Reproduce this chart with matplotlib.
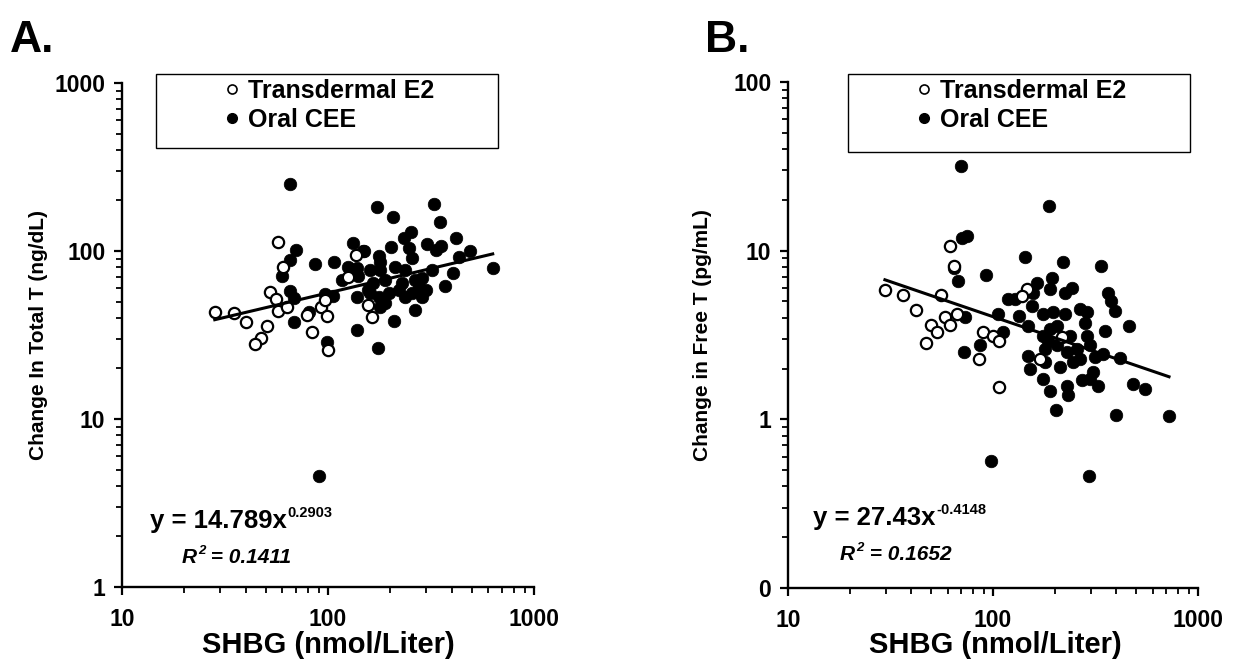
import numpy as np
import matplotlib
matplotlib.use("Agg")
import matplotlib.pyplot as plt
from matplotlib.patches import Rectangle
from matplotlib.lines import Line2D
from matplotlib.ticker import FixedLocator, FixedFormatter, LogLocator, NullFormatter

plt.rcParams['font.family'] = ['Liberation Sans', 'DejaVu Sans']
plt.rcParams['font.weight'] = 'bold'

# ---------------- data ----------------
# Panel A: change in total T (ng/dL) vs SHBG (nmol/L)
a_e2_shbg = [28.2, 35.0, 39.9, 50.6, 47.3, 44.4, 57.5, 60.4, 52.4, 56.0, 57.5,
             63.4, 83.8, 79.4, 92.9, 99.1, 97.2, 99.5, 136, 125.6, 157, 163]
a_e2_tt = [43.5, 42.6, 37.6, 35.9, 30.2, 27.8, 113.7, 80.7, 57.3, 51.6, 44.2,
           46.2, 32.8, 41.6, 46.6, 41.2, 51.1, 25.7, 94.7, 70.4, 47.7, 40.6]
a_cee_shbg = [65.1, 70.1, 65.1, 59.7, 65.1, 68.3, 68.3, 86.9, 107.2, 80.6,
              97.2, 105.2, 99.1, 132.7, 148.6, 125.5, 137.8, 140.4, 116.4, 137.8,
              138.9, 157.1, 172, 206.7, 326.8, 349.6, 254.2, 233.1, 150.3, 176,
              202.9, 303.2, 352.3, 420.2, 433, 488.3, 630.3, 404.8, 369.8, 265.9,
              209.1, 174, 320.8, 286.6, 255.9, 178.6, 159.6, 188.9, 165.7, 220.3,
              255.9, 286.6, 237.5, 276.1, 178.6, 189.6, 212.3, 237.5, 90.6, 246.6,
              228.8, 297.5, 176, 196.9, 159.6, 265.9, 333, 179.3]
a_cee_tt = [250.6, 101.4, 88.4, 71.0, 58.0, 52.3, 37.6, 83.3, 86.0, 43.5,
            55.5, 54.0, 28.9, 112.1, 100, 79.9, 78.9, 71.0, 67.2, 53.5,
            33.9, 58.6, 183.6, 160, 189.6, 148.2, 129.2, 119, 100.5, 93.4,
            105.1, 110.1, 107.1, 119, 91.7, 100, 78.9, 74.3, 61.9, 44.5,
            38.5, 26.3, 77.1, 68.8, 90.4, 77.1, 77.1, 67.2, 64.2, 58.6,
            56.0, 53.5, 53.5, 61.3, 46.6, 48.8, 80.7, 77.1, 4.58, 103.7,
            64.2, 58.6, 53.5, 56.0, 56.0, 67.2, 101.4, 86.4]
a_fit = (14.789, 0.2903)
a_r2 = "0.1411"

# Panel B: change in free T (pg/mL) vs SHBG (nmol/L)
b_e2_shbg = [29.7, 36.5, 42.1, 55.5, 61.7, 49.8, 53.5, 58.5, 61.7, 67.0, 47.1,
             89.7, 99.6, 85.1, 107.4, 64.8, 147.1, 107.4, 169.6, 216.3, 138.0]
b_e2_ft = [5.82, 5.44, 4.42, 5.44, 10.65, 3.62, 3.31, 4.02, 3.64, 4.24, 2.84,
           3.28, 3.13, 2.29, 1.55, 8.09, 5.90, 2.93, 2.29, 3.06, 5.39]
b_cee_shbg = [69.8, 187.6, 70.3, 74.9, 64.5, 67.7, 92.4, 143.3, 218.7, 336.4,
              73.0, 72.5, 86.4, 106.2, 118.8, 128, 134.5, 148.8, 163.3, 157.3,
              154.4, 194.7, 189.7, 241.9, 224.5, 365.2, 375, 393.6, 176.1, 197,
              224.5, 265.7, 286.4, 281.1, 286.4, 351.8, 462.4, 176.1, 186.2, 204.4,
              228.8, 255.9, 297.3, 345.3, 314.5, 416.4, 148.8, 151.5, 179.4, 212.3,
              246.5, 265.7, 176.1, 189.7, 228.8, 233.1, 270.7, 308.6, 326.5, 297.3,
              483.7, 551.4, 202.2, 396.6, 722.1, 97.8, 294, 179.4, 189.7, 237.5,
              204.4, 112.3]
b_cee_ft = [31.6, 18.5, 11.87, 12.25, 7.91, 6.60, 7.13, 9.14, 8.58, 8.12,
            4.02, 2.50, 2.74, 4.20, 5.15, 5.20, 4.11, 3.59, 6.45, 5.64,
            4.71, 6.91, 5.95, 6.03, 5.64, 5.64, 5.04, 4.40, 4.20, 4.30,
            4.20, 4.50, 4.30, 3.75, 3.13, 3.35, 3.59, 3.13, 2.93, 2.74,
            2.50, 2.62, 2.74, 2.44, 2.34, 2.31, 2.39, 1.98, 2.18, 2.04,
            2.18, 2.28, 1.74, 1.47, 1.58, 1.39, 1.70, 1.91, 1.58, 1.74,
            1.63, 1.52, 1.135, 1.06, 1.04, 0.564, 0.46, 2.62, 3.43, 3.13,
            3.59, 3.31]
b_fit = (27.43, -0.4148)
b_r2 = "0.1652"

series_labels = ["Transdermal E2", "Oral CEE"]
x_ticks = [10, 100, 1000]
x_ticklabels = ["10", "100", "1000"]
a_yticks = [1, 10, 100, 1000]
a_yticklabels = ["1", "10", "100", "1000"]
b_yticks = [0.1, 1, 10, 100]
b_yticklabels = ["0", "1", "10", "100"]

# ---------------- figure ----------------
W, H = 1237, 663
fig = plt.figure(figsize=(W / 100, H / 100), dpi=100)


def fx(px):
    return px / W


def fy(py):
    return 1 - py / H


def make_ax(l, r, t, b):
    return fig.add_axes([fx(l), fy(b), fx(r) - fx(l), fy(t) - fy(b)])


axA = make_ax(122, 534, 83, 587)
axB = make_ax(788, 1198, 82, 588)

TICK_FS = 16.5


def style(ax, yticks, yticklabels, ylim):
    ax.set_xscale('log')
    ax.set_yscale('log')
    ax.set_xlim(10, 1000)
    ax.set_ylim(*ylim)
    for s in ['top', 'right']:
        ax.spines[s].set_visible(False)
    for s in ['left', 'bottom']:
        ax.spines[s].set_linewidth(1.7)
    ax.xaxis.set_major_locator(FixedLocator(x_ticks))
    ax.xaxis.set_major_formatter(FixedFormatter(x_ticklabels))
    ax.xaxis.set_minor_locator(LogLocator(base=10, subs=np.arange(2, 10)))
    ax.xaxis.set_minor_formatter(NullFormatter())
    ax.yaxis.set_major_locator(FixedLocator(yticks))
    ax.yaxis.set_major_formatter(FixedFormatter(yticklabels))
    ax.yaxis.set_minor_locator(LogLocator(base=10, subs=np.arange(2, 10)))
    ax.yaxis.set_minor_formatter(NullFormatter())
    ax.tick_params(which='major', direction='out', length=6, width=1.6,
                   labelsize=TICK_FS)
    ax.tick_params(which='minor', direction='out', length=4, width=1.3)
    ax.tick_params(axis='x', which='major', pad=9)
    ax.tick_params(axis='y', which='major', pad=6)
    for lab in ax.get_xticklabels() + ax.get_yticklabels():
        lab.set_fontweight('bold')


def scatter_panel(ax, e2x, e2y, ceex, ceey, fit):
    ax.scatter(ceex, ceey, s=82, c='black', edgecolors='black', linewidths=0.5,
               zorder=3)
    ax.scatter(e2x, e2y, s=66, facecolors='white', edgecolors='black',
               linewidths=1.6, zorder=4)
    allx = np.array(list(e2x) + list(ceex), dtype=float)
    xs = np.logspace(np.log10(allx.min()), np.log10(allx.max()), 100)
    a, b = fit
    ax.plot(xs, a * xs ** b, color='black', lw=2.2, zorder=5)


style(axA, a_yticks, a_yticklabels, (1, 1000))
style(axB, b_yticks, b_yticklabels, (0.1, 100))
scatter_panel(axA, a_e2_shbg, a_e2_tt, a_cee_shbg, a_cee_tt, a_fit)
scatter_panel(axB, b_e2_shbg, b_e2_ft, b_cee_shbg, b_cee_ft, b_fit)

# axis labels
LABEL_FS = 21
fig.text(fx(328), fy(645), "SHBG (nmol/Liter)", ha='center', va='center',
         fontsize=LABEL_FS, fontweight='bold')
fig.text(fx(995), fy(645), "SHBG (nmol/Liter)", ha='center', va='center',
         fontsize=LABEL_FS, fontweight='bold')
fig.text(fx(39), fy(335), "Change In Total T (ng/dL)", ha='center', va='center',
         rotation=90, fontsize=15, fontweight='bold')
fig.text(fx(703), fy(335), "Change in Free T (pg/mL)", ha='center', va='center',
         rotation=90, fontsize=15, fontweight='bold')

# panel letters
fig.text(fx(10), fy(52), "A.", ha='left', va='baseline', fontsize=32,
         fontweight='bold')
fig.text(fx(705), fy(52), "B.", ha='left', va='baseline', fontsize=32,
         fontweight='bold')

# legends (box drawn as rectangle, entries as legend)
handles = [Line2D([], [], ls='none', marker='o', markersize=6.5,
                  markerfacecolor='white', markeredgecolor='black',
                  markeredgewidth=1.2),
           Line2D([], [], ls='none', marker='o', markersize=7,
                  markerfacecolor='black', markeredgecolor='black')]
for (l, r, t, b), ax, tx in [((156, 498, 74, 148), axA, 223),
                             ((848, 1190, 74, 152), axB, 915)]:
    fig.patches.append(Rectangle((fx(l), fy(b)), fx(r) - fx(l), fy(t) - fy(b),
                                 transform=fig.transFigure, fill=False,
                                 edgecolor='black', lw=1.0, zorder=1))
    leg = ax.legend(handles, series_labels, loc='upper left',
                    bbox_to_anchor=(fx(tx), fy(t + 5)),
                    bbox_transform=fig.transFigure, frameon=False,
                    handlelength=0.75, handletextpad=0.25, borderpad=0,
                    borderaxespad=0, labelspacing=0.2,
                    prop={'weight': 'bold', 'size': 18})

# equations
fig.canvas.draw()
renderer = fig.canvas.get_renderer()


def eq_text(x0, base, main, sup, size, sup_size, style_='normal', rest=None):
    t = fig.text(fx(x0), fy(base), main, ha='left', va='baseline',
                 fontsize=size, fontweight='bold', fontstyle=style_)
    bb = t.get_window_extent(renderer)
    x1 = bb.x1
    s = fig.text(x1 / W + 1 / W, fy(base - size * 0.62), sup, ha='left',
                 va='baseline', fontsize=sup_size, fontweight='bold',
                 fontstyle=style_)
    if rest is not None:
        bb2 = s.get_window_extent(renderer)
        fig.text(bb2.x1 / W, fy(base), rest, ha='left', va='baseline',
                 fontsize=size, fontweight='bold', fontstyle=style_)


eq_text(150, 528, "y = 14.789x", f"{a_fit[1]:.4f}", 18.5, 10.5)
eq_text(182, 563, "R", "2", 15, 9.5, 'italic', f" = {a_r2}")
eq_text(813, 525, "y = 27.43x", f"{b_fit[1]:.4f}", 18.5, 10.5)
eq_text(840, 560, "R", "2", 15, 9.5, 'italic', f" = {b_r2}")

fig.savefig("out.png", dpi=100)
